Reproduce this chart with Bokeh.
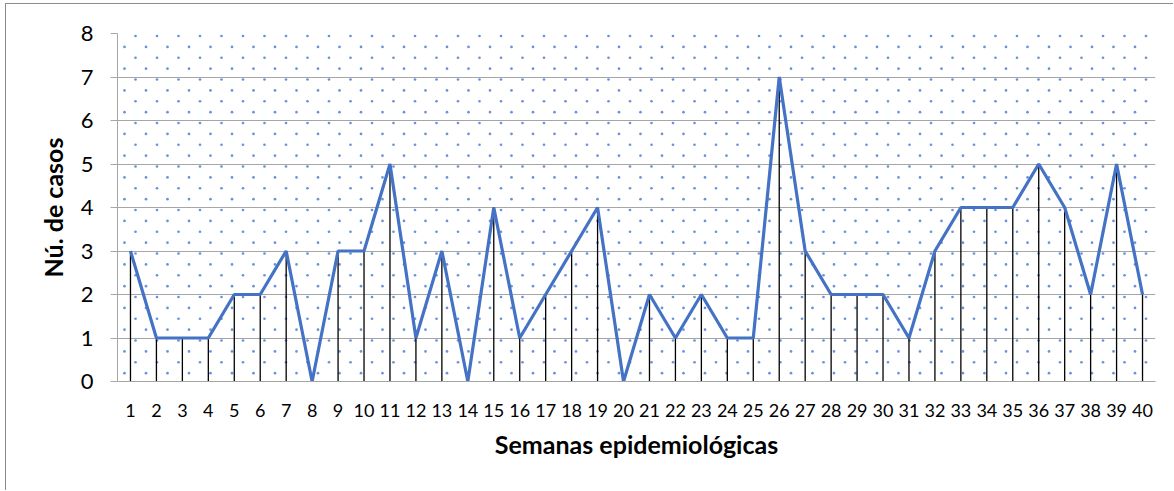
import numpy as np
from bokeh.plotting import figure
from bokeh.models import Range1d, FixedTicker
from bokeh.embed import file_html
from bokeh.resources import INLINE

semanas = list(range(1, 41))
casos = [3, 1, 1, 1, 2, 2, 3, 0, 3, 3, 5, 1, 3, 0, 4, 1, 2, 3, 4, 0,
         2, 1, 2, 1, 1, 7, 3, 2, 2, 2, 1, 3, 4, 4, 4, 5, 4, 2, 5, 2]
y_ticks = list(range(0, 9))
x_label = "Semanas epidemiológicas"
y_label = "Nú. de casos"

FONT = "Lato"
GRID = "#A6A6A6"
BLUE = "#4472C4"

W, H = 1168, 487
ML, MR, MT, MB = 111, 19, 29, 110

p = figure(width=W, height=H,
           x_range=Range1d(0.5, 40.5), y_range=Range1d(0, 8),
           output_backend="svg", toolbar_location=None,
           min_border_left=ML, min_border_right=MR,
           min_border_top=MT, min_border_bottom=MB,
           styles={"position": "absolute", "left": "5px", "top": "3px",
                   "border-left": "1px solid #8C8C8C",
                   "border-top": "1px solid #8C8C8C"})
p.outline_line_color = None
p.background_fill_color = "white"
p.border_fill_color = "white"

# dotted background pattern (decoration, staggered lattice in frame pixels)
fw, fh = W - ML - MR, H - MT - MB
xs_u = fw / 40.0
ys_u = fh / 8.0
dx, dy = [], []
k = 0
while 2.5 + 10.875 * k < fh:
    ypx = 2.5 + 10.875 * k
    start = 18.0 if k % 2 == 0 else 7.0
    xpx = start
    while xpx < fw:
        dx.append(0.5 + xpx / xs_u)
        dy.append(8 - ypx / ys_u)
        xpx += 21.5
    k += 1
p.scatter(dx, dy, size=2.7, marker="circle", fill_color="#4F7FD4",
          line_color=None, fill_alpha=0.85)

# drop lines
p.segment(x0=semanas, y0=[0] * len(semanas), x1=semanas, y1=casos,
          line_color="black", line_width=1.3)
# series line
p.line(semanas, casos, line_color=BLUE, line_width=3.2)

# axes
p.xaxis.ticker = FixedTicker(ticks=semanas)
p.xaxis.major_tick_line_color = None
p.xaxis.minor_tick_line_color = None
p.xaxis.axis_line_color = GRID
p.xaxis.major_label_text_font = FONT
p.xaxis.major_label_text_font_size = "18px"
p.xaxis.major_label_text_color = "black"
p.xaxis.major_label_standoff = 16
p.xaxis.axis_label = x_label
p.xaxis.axis_label_text_font = FONT
p.xaxis.axis_label_text_font_style = "bold"
p.xaxis.axis_label_text_font_size = "25px"
p.xaxis.axis_label_text_color = "black"
p.xaxis.axis_label_standoff = 9

p.yaxis.ticker = FixedTicker(ticks=y_ticks)
p.yaxis.major_tick_out = 7
p.yaxis.major_tick_in = 0
p.yaxis.major_tick_line_color = GRID
p.yaxis.minor_tick_line_color = None
p.yaxis.axis_line_color = GRID
p.yaxis.major_label_text_font = FONT
p.yaxis.major_label_text_font_size = "22px"
p.yaxis.major_label_text_color = "black"
p.yaxis.major_label_standoff = 17
p.yaxis.axis_label = y_label
p.yaxis.axis_label_text_font = FONT
p.yaxis.axis_label_text_font_style = "bold"
p.yaxis.axis_label_text_font_size = "25px"
p.yaxis.axis_label_text_color = "black"
p.yaxis.axis_label_standoff = 10

p.xgrid.grid_line_color = None
p.ygrid.grid_line_color = GRID
p.ygrid.grid_line_width = 1.2

open("out.html", "w").write(file_html(p, INLINE))
